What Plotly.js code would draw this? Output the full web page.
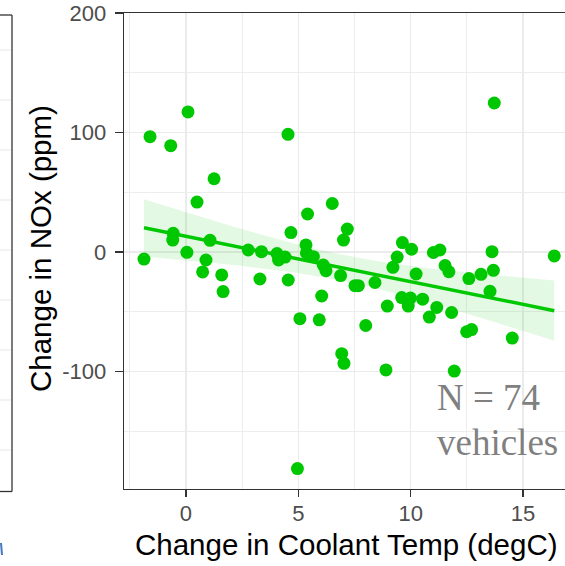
<!DOCTYPE html>
<html>
<head>
<meta charset="utf-8">
<script src="https://cdn.plot.ly/plotly-3.0.1.min.js"></script>
<style>
html,body{margin:0;padding:0;overflow:hidden;background:#fff;}
#chart{width:600px;height:566px;}
</style>
</head>
<body>
<div id="chart"></div>
<script>
// Change in coolant temperature (degC) per vehicle
const coolantChange = [-1.60,-0.68,0.09,4.54,1.25,0.49,5.41,6.51,7.18,7.01,4.67,5.34,-0.57,-0.59,1.07,-1.87,0.04,0.89,0.74,1.59,1.65,2.77,3.36,3.29,4.05,4.12,4.41,4.55,5.67,5.36,6.11,6.23,6.88,6.04,5.07,5.93,7.52,7.67,8.41,8.00,6.93,7.03,4.96,8.90,8.96,9.21,9.40,9.63,10.04,9.60,9.89,9.99,10.53,10.24,11.01,11.30,11.53,11.70,10.83,11.16,11.82,11.94,12.49,12.71,12.59,13.13,13.68,13.62,13.53,13.72,14.52,16.39];
// Change in NOx (ppm) per vehicle
const noxChange = [96.5,89.0,117.2,98.5,61.3,41.8,31.8,40.6,19.2,10.0,16.3,5.9,15.6,10.0,9.8,-5.9,-0.3,-6.7,-16.7,-19.2,-33.1,1.7,0.3,-22.6,-1.3,-6.7,-4.2,-23.4,-3.9,-0.8,-10.9,-15.6,-19.7,-36.8,-55.8,-56.7,-28.2,-28.2,-25.5,-61.5,-85.1,-93.1,-181.2,-98.7,-45.2,-12.8,-4.2,7.9,2.3,-38.1,-45.2,-38.5,-39.5,-18.4,-0.4,1.7,-11.3,-16.5,-54.4,-46.4,-50.6,-99.6,-66.7,-64.9,-22.2,-18.7,-15.3,0.3,-32.9,124.7,-72.0,-3.3];
const xTickVals = [0,5,10,15];
const yTickVals = [-100,0,100,200];
const noteLine1 = "N = 74";
const noteLine2 = "vehicles";
const xTitle = "Change in Coolant Temp (degC)";
const yTitle = "Change in NOx (ppm)";

// Linear fit with 95% confidence band (as geom_smooth(method = "lm"))
const n = coolantChange.length;
const mx = coolantChange.reduce((a,b)=>a+b,0)/n;
const my = noxChange.reduce((a,b)=>a+b,0)/n;
let sxx=0, sxy=0;
for(let i=0;i<n;i++){sxx+=(coolantChange[i]-mx)**2; sxy+=(coolantChange[i]-mx)*(noxChange[i]-my);}
const b1 = sxy/sxx, b0 = my-b1*mx;
let sse=0;
for(let i=0;i<n;i++){sse+=(noxChange[i]-b0-b1*coolantChange[i])**2;}
const s = Math.sqrt(sse/(n-2));
const tcrit = 1.994;
const xmin = Math.min(...coolantChange), xmax = Math.max(...coolantChange);
const fx=[], fy=[], lo=[], hi=[];
for(let k=0;k<=80;k++){
  const x = xmin+(xmax-xmin)*k/80;
  const y = b0+b1*x;
  const se = s*Math.sqrt(1/n+(x-mx)**2/sxx);
  fx.push(x); fy.push(y); lo.push(y-tcrit*se); hi.push(y+tcrit*se);
}

const green = '#00C800';
const traces = [
  {x:fx, y:lo, mode:'lines', line:{width:0}, hoverinfo:'skip', showlegend:false},
  {x:fx, y:hi, mode:'lines', line:{width:0}, fill:'tonexty', fillcolor:'rgba(0,200,0,0.11)', hoverinfo:'skip', showlegend:false},
  {x:fx, y:fy, mode:'lines', line:{color:green, width:3.5}, showlegend:false},
  {x:coolantChange, y:noxChange, mode:'markers', marker:{color:green, size:13}, showlegend:false}
];

const W=600, H=566, L=124, R=24, T=13, B=77;
const pw = W-L-R, ph = H-T-B;
const px = v => (v-L)/pw;
const py = v => (H-B-v)/ph;

const shapes = [
  // partial neighbouring panel on the left
  {type:'line', xref:'paper', yref:'paper', x0:px(0), x1:px(12), y0:py(15), y1:py(15), line:{color:'#333', width:1.3}},
  {type:'line', xref:'paper', yref:'paper', x0:px(12), x1:px(12), y0:py(15), y1:py(491.5), line:{color:'#333', width:1.3}},
  {type:'line', xref:'paper', yref:'paper', x0:px(0), x1:px(12), y0:py(491.5), y1:py(491.5), line:{color:'#333', width:1.3}},
  {type:'line', xref:'paper', yref:'paper', x0:px(1), x1:px(2), y0:py(543), y1:py(555), line:{color:'#4a78c0', width:2}}
];
[50,100,150,200,250,300,350,400,450].forEach(g=>{
  shapes.push({type:'line', xref:'paper', yref:'paper', x0:px(0), x1:px(11), y0:py(g), y1:py(g), line:{color:'#ebebeb', width:1.2}, layer:'below'});
});

const layout = {
  width:W, height:H,
  margin:{l:L, r:R, t:T, b:B, pad:0},
  paper_bgcolor:'#fff', plot_bgcolor:'#fff',
  font:{family:'Liberation Sans, Arial, sans-serif'},
  xaxis:{
    range:[-2.759, 17.357], tickvals:xTickVals, ticktext:xTickVals.map(String),
    showgrid:true, gridcolor:'#ebebeb', gridwidth:1.6,
    minor:{dtick:2.5, tick0:0, showgrid:true, gridcolor:'#ededed', gridwidth:1.2},
    zeroline:false, showline:true, linecolor:'#333', linewidth:1.4, mirror:true,
    ticks:'outside', ticklen:7, tickcolor:'#333', tickwidth:1.4,
    tickfont:{size:22, color:'#4d4d4d'}, ticklabelstandoff:-3
  },
  yaxis:{
    range:[-198.3, 200], tickvals:yTickVals, ticktext:yTickVals.map(String),
    showgrid:true, gridcolor:'#ebebeb', gridwidth:1.6,
    minor:{dtick:50, tick0:0, showgrid:true, gridcolor:'#ededed', gridwidth:1.2},
    zeroline:false, showline:true, linecolor:'#333', linewidth:1.4, mirror:true,
    ticks:'outside', ticklen:8, tickcolor:'#333', tickwidth:1.4,
    tickfont:{size:22, color:'#4d4d4d'}, ticklabelstandoff:4
  },
  shapes: shapes,
  annotations:[
    {xref:'paper', yref:'paper', x:px(346), y:py(526), xanchor:'center', yanchor:'top', showarrow:false,
     text:xTitle, font:{size:29.5, color:'#000'}},
    {xref:'paper', yref:'paper', x:px(40), y:py(249), xanchor:'center', yanchor:'middle', showarrow:false,
     text:yTitle, textangle:-90, font:{size:29.5, color:'#000'}},
    {xref:'x', yref:'y', x:11.08, y:-122, xanchor:'left', yanchor:'middle', showarrow:false,
     text:noteLine1, font:{family:'Liberation Serif, Times New Roman, serif', size:37, color:'#808080'}},
    {xref:'x', yref:'y', x:11.08, y:-159, xanchor:'left', yanchor:'middle', showarrow:false,
     text:noteLine2, font:{family:'Liberation Serif, Times New Roman, serif', size:37, color:'#808080'}}
  ]
};

Plotly.newPlot('chart', traces, layout, {staticPlot:true, displayModeBar:false});
</script>
</body>
</html>
